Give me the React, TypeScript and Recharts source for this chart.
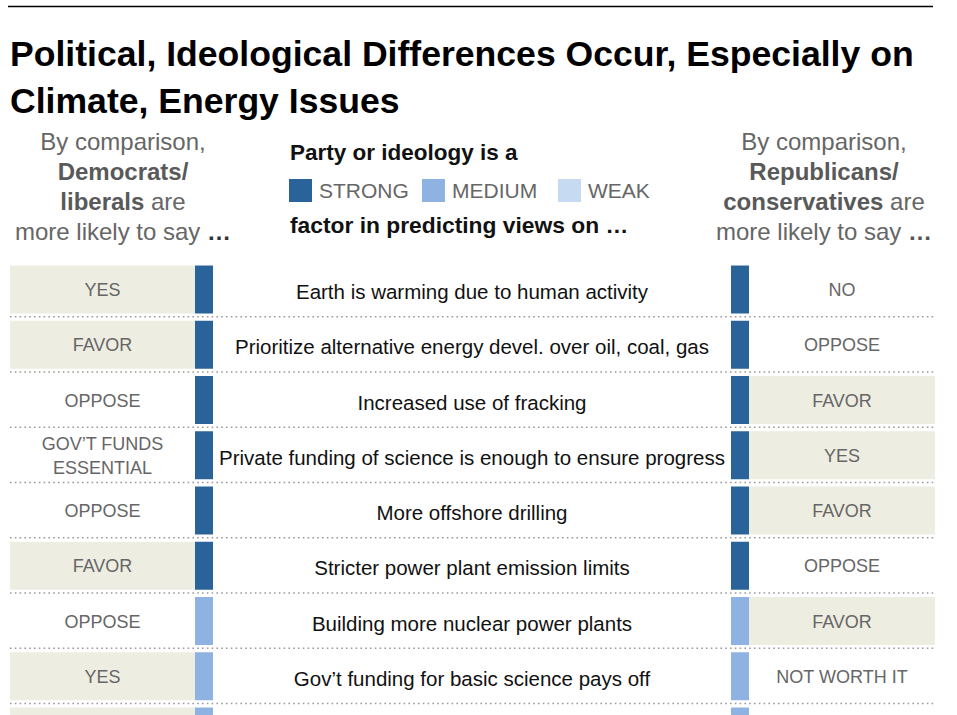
import React from "react";
import { Bar, BarChart, CartesianGrid, Cell, LabelList, XAxis, YAxis } from "recharts";

const TOPICS = [
  "Earth is warming due to human activity",
  "Prioritize alternative energy devel. over oil, coal, gas",
  "Increased use of fracking",
  "Private funding of science is enough to ensure progress",
  "More offshore drilling",
  "Stricter power plant emission limits",
  "Building more nuclear power plants",
  "Gov’t funding for basic science pays off",
  "Gov’t investment in engineering, technology pays off",
];

const LIBERAL_SAY = ["YES", "FAVOR", "OPPOSE", "GOV’T FUNDS\nESSENTIAL", "OPPOSE", "FAVOR", "OPPOSE", "YES", "YES"];
const CONSERVATIVE_SAY = ["NO", "OPPOSE", "FAVOR", "YES", "FAVOR", "OPPOSE", "FAVOR", "NOT WORTH IT", "NOT WORTH IT"];
const STRENGTH = ["strong", "strong", "strong", "strong", "strong", "strong", "medium", "medium", "medium"];
// which side's answer gets the beige box
const SHADED = ["left", "left", "right", "right", "right", "left", "right", "left", "left"];

const LEGEND = [
  { key: "strong", label: "STRONG" },
  { key: "medium", label: "MEDIUM" },
  { key: "weak", label: "WEAK" },
];

const COLORS: Record<string, string> = {
  strong: "#2a6399",
  medium: "#8eb2e1",
  weak: "#c6dbf1",
};
const SHADE = "#eeede2";
const GRAY = "#666666";
const FONT = "'Liberation Sans', Arial, sans-serif";

const rows = TOPICS.map((topic, i) => ({
  topic,
  liberal: LIBERAL_SAY[i],
  conservative: CONSERVATIVE_SAY[i],
  strength: STRENGTH[i],
  shaded: SHADED[i],
  leftBox: 185,
  leftStrip: 18,
  middle: 518,
  rightStrip: 18,
  rightBox: 186,
}));

const PLOT_TOP = 261.5;
const BAND = 55.25;
const CHART_H = 760;
const VIEW_H = 715;

function boxOf(props: any) {
  const vb = props.viewBox && props.viewBox.width != null ? props.viewBox : props;
  return { x: Number(vb.x), y: Number(vb.y), w: Number(vb.width), h: Number(vb.height) };
}

function answerLabel(props: any) {
  const { x, y, w, h } = boxOf(props);
  // last row is cut off by the page edge, its labels fall below it
  if (y + h > VIEW_H) return null;
  const lines = String(props.value).split("\n");
  const cx = x + w / 2;
  const cy = y + h / 2;
  const lead = 24;
  const first = cy + 6.5 - ((lines.length - 1) * lead) / 2;
  return (
    <text x={cx} textAnchor="middle" fontFamily={FONT} fontSize={18} fill={GRAY}>
      {lines.map((l, k) => (
        <tspan key={k} x={cx} y={first + k * lead}>
          {l}
        </tspan>
      ))}
    </text>
  );
}

function topicLabel(props: any) {
  const { x, y, w, h } = boxOf(props);
  if (y + h > VIEW_H) return null;
  return (
    <text x={x + w / 2} y={y + h / 2 + 9.5} textAnchor="middle" fontFamily={FONT} fontSize={20.5} fill="#111">
      {props.value}
    </text>
  );
}

function Header() {
  return (
    <svg width={957} height={260} style={{ position: "absolute", left: 0, top: 0 }}>
      <line x1={8} x2={933} y1={6.5} y2={6.5} stroke="#000" strokeWidth={1.4} />
      <text x={10} y={66} fontFamily={FONT} fontWeight="bold" fontSize={35.6} fill="#000">
        Political, Ideological Differences Occur, Especially on
      </text>
      <text x={10} y={113} fontFamily={FONT} fontWeight="bold" fontSize={35.6} fill="#000">
        Climate, Energy Issues
      </text>

      <g fontFamily={FONT} fontSize={24} fill={GRAY} textAnchor="middle">
        <text x={123} y={150}>By comparison,</text>
        <text x={123} y={180} fontWeight="bold" fill="#595959">Democrats/</text>
        <text x={123} y={210}>
          <tspan fontWeight="bold" fill="#595959">liberals</tspan> are
        </text>
        <text x={123} y={240}>
          more likely to say <tspan fontWeight="bold" fill="#333">…</tspan>
        </text>

        <text x={824} y={150}>By comparison,</text>
        <text x={824} y={180} fontWeight="bold" fill="#595959">Republicans/</text>
        <text x={824} y={210}>
          <tspan fontWeight="bold" fill="#595959">conservatives</tspan> are
        </text>
        <text x={824} y={240}>
          more likely to say <tspan fontWeight="bold" fill="#555">…</tspan>
        </text>
      </g>

      <text x={290} y={160} fontFamily={FONT} fontWeight="bold" fontSize={22.5} fill="#111">
        Party or ideology is a
      </text>
      {LEGEND.map((item, i) => {
        const sx = [289, 422, 558][i];
        return (
          <g key={item.key}>
            <rect x={sx} y={179} width={23} height={23} fill={COLORS[item.key]} />
            <text x={sx + 30} y={198} fontFamily={FONT} fontSize={21} fill={GRAY}>
              {item.label}
            </text>
          </g>
        );
      })}
      <text x={290} y={233} fontFamily={FONT} fontWeight="bold" fontSize={22.8} fill="#111">
        factor in predicting views on …
      </text>
    </svg>
  );
}

export default function App() {
  return (
    <div style={{ position: "absolute", left: 0, top: 0, width: 957, height: VIEW_H, overflow: "hidden", background: "#fff" }}>
      <Header />
      <div style={{ position: "absolute", left: 0, top: 0 }}>
        <BarChart
          width={957}
          height={CHART_H}
          data={rows}
          layout="vertical"
          barSize={48}
          margin={{ top: PLOT_TOP, left: 10, right: 22, bottom: CHART_H - PLOT_TOP - BAND * rows.length }}
        >
          <CartesianGrid
            vertical={false}
            stroke="#9a9a9a"
            strokeWidth={1.6}
            strokeDasharray="1.6 3.2"
            horizontalCoordinatesGenerator={({ offset }: any) =>
              rows.map((_, i) => offset.top + ((i + 1) * offset.height) / rows.length)
            }
          />
          <XAxis type="number" domain={[0, 925]} hide />
          <YAxis type="category" dataKey="topic" hide />
          <Bar dataKey="leftBox" stackId="row" isAnimationActive={false}>
            {rows.map((r, i) => (
              <Cell key={i} fill={r.shaded === "left" ? SHADE : "transparent"} />
            ))}
            <LabelList dataKey="liberal" content={answerLabel} />
          </Bar>
          <Bar dataKey="leftStrip" stackId="row" isAnimationActive={false}>
            {rows.map((r, i) => (
              <Cell key={i} fill={COLORS[r.strength]} />
            ))}
          </Bar>
          <Bar dataKey="middle" stackId="row" fill="transparent" isAnimationActive={false}>
            <LabelList dataKey="topic" content={topicLabel} />
          </Bar>
          <Bar dataKey="rightStrip" stackId="row" isAnimationActive={false}>
            {rows.map((r, i) => (
              <Cell key={i} fill={COLORS[r.strength]} />
            ))}
          </Bar>
          <Bar dataKey="rightBox" stackId="row" isAnimationActive={false}>
            {rows.map((r, i) => (
              <Cell key={i} fill={r.shaded === "right" ? SHADE : "transparent"} />
            ))}
            <LabelList dataKey="conservative" content={answerLabel} />
          </Bar>
        </BarChart>
      </div>
    </div>
  );
}
